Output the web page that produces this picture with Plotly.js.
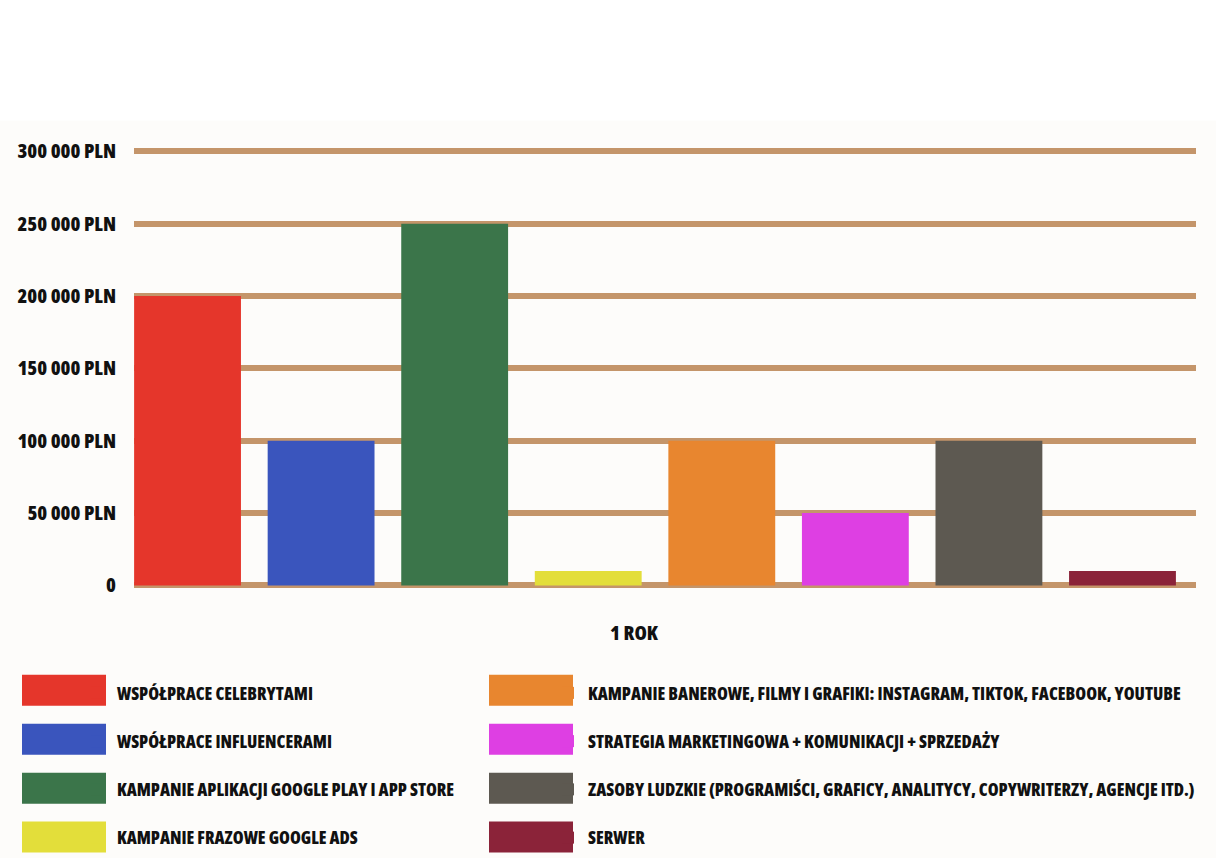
<!DOCTYPE html>
<html>
<head>
<meta charset="utf-8">
<script src="https://cdn.plot.ly/plotly-3.0.1.min.js"></script>
<style>
html,body{margin:0;padding:0;background:#fdfcfa;}
#chart{width:1216px;height:858px;}
#chart text{font-stretch:condensed !important;}
</style>
</head>
<body>
<div id="chart"></div>
<script>
// ---- data ----
const category = ['1 ROK'];
const seriesNames = [
  'WSPÓŁPRACE CELEBRYTAMI',
  'WSPÓŁPRACE INFLUENCERAMI',
  'KAMPANIE APLIKACJI GOOGLE PLAY I APP STORE',
  'KAMPANIE FRAZOWE GOOGLE ADS',
  'KAMPANIE BANEROWE, FILMY I GRAFIKI: INSTAGRAM, TIKTOK, FACEBOOK, YOUTUBE',
  'STRATEGIA MARKETINGOWA + KOMUNIKACJI + SPRZEDAŻY',
  'ZASOBY LUDZKIE (PROGRAMIŚCI, GRAFICY, ANALITYCY, COPYWRITERZY, AGENCJE ITD.)',
  'SERWER'
];
const seriesValues = [200000, 100000, 250000, 10000, 100000, 50000, 100000, 10000];
const tickValues = [0, 50000, 100000, 150000, 200000, 250000, 300000];
const tickLabels = ['0', '50 000 PLN', '100 000 PLN', '150 000 PLN', '200 000 PLN', '250 000 PLN', '300 000 PLN'];

// ---- styles ----
const colors = ['#e5362b', '#3a55bd', '#3b754a', '#e3de3a', '#e8862f', '#de3fe3', '#5d5951', '#8b2339'];
const FONT = '"Open Sans", "Roboto", sans-serif';
const STRETCH = 'condensed';
const WEIGHT = 800;
const gridColor = '#c4956a';

const W = 1216, H = 858;
const M = {l: 134, r: 20, t: 136.5, b: 260.9, autoexpand: false};
const plotW = W - M.l - M.r, plotH = H - M.t - M.b;
const px2x = px => (px - M.l) / plotW;
const px2y = py => (H - M.b - py) / plotH;

const traces = seriesNames.map((name, i) => ({
  type: 'bar',
  name: name,
  x: category,
  y: [seriesValues[i]],
  marker: {color: colors[i], line: {width: 0}},
  legend: i < 4 ? 'legend' : 'legend2',
  legendgroup: 'g' + i,
  hoverinfo: 'name+y'
}));

// enlarged legend swatches
const rowTops = [675, 724, 773, 822];
const shapes = [];
seriesNames.forEach((n, i) => {
  const col = i < 4 ? 0 : 1;
  const row = i % 4;
  const x0 = col === 0 ? 22 : 489, x1 = col === 0 ? 106 : 573;
  shapes.push({type: 'rect', xref: 'paper', yref: 'paper',
    x0: px2x(x0), x1: px2x(x1), y0: px2y(rowTops[row]), y1: px2y(rowTops[row] + 31),
    fillcolor: colors[i], line: {width: 0}, layer: 'below'});
});
// white band above the chart
shapes.push({type: 'rect', xref: 'paper', yref: 'paper', x0: px2x(-5), x1: px2x(W + 5), y0: px2y(120), y1: px2y(-5),
  fillcolor: '#ffffff', line: {width: 0}, layer: 'below'});

const legendCommon = {
  orientation: 'v', xref: 'container', yref: 'container', yanchor: 'top', xanchor: 'left',
  bgcolor: 'rgba(0,0,0,0)', borderwidth: 0, tracegroupgap: 22.5, itemwidth: 30,
  font: {family: FONT, size: 17.5, color: '#111111', weight: WEIGHT, stretch: STRETCH},
  itemclick: false, itemdoubleclick: false
};

const layout = {
  width: W, height: H,
  margin: M,
  paper_bgcolor: '#fdfcfa', plot_bgcolor: '#fdfcfa',
  font: {family: FONT, color: '#111111', weight: WEIGHT, stretch: STRETCH},
  barmode: 'group', bargap: 0, bargroupgap: 0.2,
  showlegend: true,
  legend: Object.assign({}, legendCommon, {x: 77 / W, y: 1 - 675 / H}),
  legend2: Object.assign({}, legendCommon, {x: 548 / W, y: 1 - 675 / H}),
  xaxis: {
    type: 'category', range: [-0.4876, 0.5063], showgrid: false, zeroline: false, showline: false,
    ticks: '', ticklabelshift: -21, ticklabelstandoff: 22,
    tickfont: {family: FONT, size: 20, color: '#111111', weight: WEIGHT, stretch: STRETCH}, fixedrange: true
  },
  yaxis: {
    range: [-8000, 310000], tickvals: tickValues, ticktext: tickLabels,
    showgrid: true, gridcolor: gridColor, gridwidth: 6,
    zeroline: true, zerolinecolor: gridColor, zerolinewidth: 6,
    showline: false, ticks: '', ticklabelstandoff: 17,
    tickfont: {family: FONT, size: 20, color: '#111111', weight: WEIGHT, stretch: STRETCH}, fixedrange: true
  },
  shapes: shapes
};

Plotly.newPlot('chart', traces, layout, {displayModeBar: false});
</script>
</body>
</html>
